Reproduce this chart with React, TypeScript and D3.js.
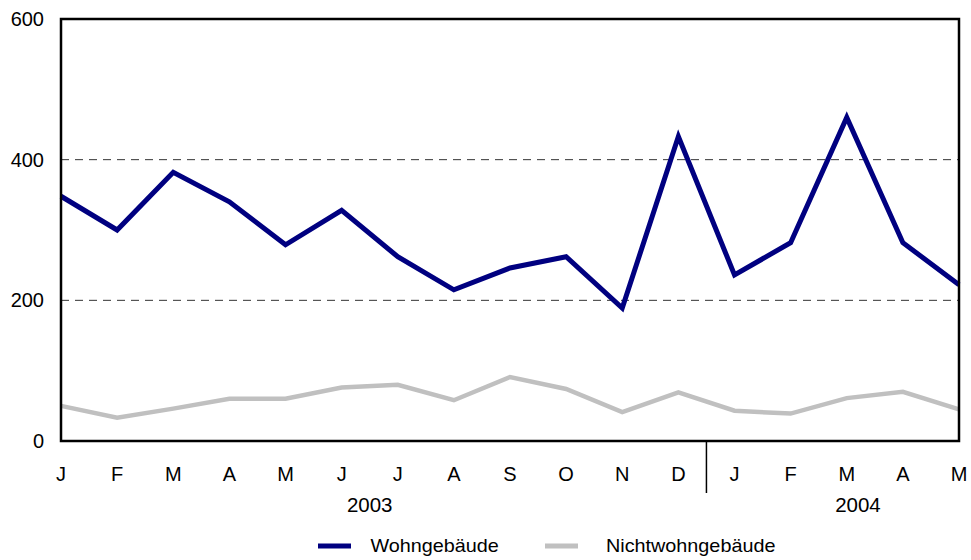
import React, { useRef, useEffect } from "react";
import * as d3 from "d3";

const months = ["J", "F", "M", "A", "M", "J", "J", "A", "S", "O", "N", "D", "J", "F", "M", "A", "M"];
const years = ["2003", "2004"];
const wohn = [348, 300, 382, 340, 279, 328, 262, 215, 246, 262, 189, 433, 236, 282, 460, 282, 222];
const nichtwohn = [50, 33, 46, 60, 60, 76, 80, 58, 91, 74, 41, 69, 43, 39, 61, 70, 45];
const yTicks = [0, 200, 400, 600];
const seriesNames = ["Wohngebäude", "Nichtwohngebäude"];
const colors = ["#000080", "#c0c0c0"];

const App = () => {
  const canvas = useRef<SVGSVGElement>(null);

  const width = 971;
  const height = 560;
  const margin = { top: 19, right: 12, bottom: 119, left: 61 };
  const font = "'Liberation Sans', Arial, sans-serif";

  useEffect(() => {
    const svg = d3.select(canvas.current);
    svg.selectAll("*").remove();

    const xScale = d3.scalePoint<number>()
      .domain(months.map((_, i) => i))
      .range([margin.left, width - margin.right]);
    const yScale = d3.scaleLinear().domain([0, 600]).range([height - margin.bottom, margin.top]);
    const step = xScale.step();

    // dashed grid
    svg.append("g").selectAll("line")
      .data(yTicks.filter(t => t > 0 && t < 600))
      .join("line")
      .attr("x1", margin.left).attr("x2", width - margin.right)
      .attr("y1", d => yScale(d)).attr("y2", d => yScale(d))
      .style("stroke", "#333").style("stroke-width", 1)
      .style("stroke-dasharray", "8,6");

    // y labels
    svg.append("g").selectAll("text")
      .data(yTicks)
      .join("text")
      .attr("x", margin.left - 17)
      .attr("y", d => yScale(d))
      .attr("dy", "0.35em")
      .attr("text-anchor", "end")
      .style("font-family", font).style("font-size", "20px")
      .text(d => d);

    const line = d3.line<number>()
      .x((_, i) => xScale(i) as number)
      .y(d => yScale(d));

    [nichtwohn, wohn].forEach((data, k) => {
      svg.append("path")
        .datum(data)
        .style("stroke", k === 0 ? colors[1] : colors[0])
        .style("stroke-width", k === 0 ? 4.5 : 5)
        .style("stroke-linejoin", "miter")
        .style("fill", "none")
        .attr("d", line);
    });

    // frame
    svg.append("rect")
      .attr("x", margin.left).attr("y", margin.top)
      .attr("width", width - margin.right - margin.left)
      .attr("height", height - margin.bottom - margin.top)
      .style("fill", "none").style("stroke", "#000").style("stroke-width", 2.5);

    // month labels
    svg.append("g").selectAll("text")
      .data(months)
      .join("text")
      .attr("x", (_, i) => xScale(i) as number)
      .attr("y", 473.5)
      .attr("dy", "0.35em")
      .attr("text-anchor", "middle")
      .style("font-family", font).style("font-size", "20px")
      .text(d => d);

    // year separator
    const sepX = (xScale(11) as number) + step / 2;
    svg.append("line")
      .attr("x1", sepX).attr("x2", sepX)
      .attr("y1", yScale(0)).attr("y2", 493)
      .style("stroke", "#000").style("stroke-width", 1.5);

    // year labels
    const yearPos = [((xScale(0) as number) - step / 2 + sepX) / 2, (xScale(14) as number) + step * 0.2];
    svg.append("g").selectAll("text")
      .data(years)
      .join("text")
      .attr("x", (_, i) => yearPos[i])
      .attr("y", 505)
      .attr("dy", "0.35em")
      .attr("text-anchor", "middle")
      .style("font-family", font).style("font-size", "20.5px")
      .text(d => d);

    // legend
    const legendX = [318, 545];
    const lg = svg.append("g").selectAll("g")
      .data(seriesNames)
      .join("g")
      .attr("transform", (_, i) => "translate(" + legendX[i] + ",546)");
    lg.append("line")
      .attr("x1", 0).attr("x2", 33).attr("y1", 0).attr("y2", 0)
      .style("stroke", (_, i) => colors[i]).style("stroke-width", 5);
    lg.append("text")
      .attr("transform", (_, i) => "translate(" + (i === 0 ? 52.5 : 61) + ",0) scale(1.1,1)")
      .attr("dy", "0.35em")
      .style("font-family", font).style("font-size", "18px")
      .text(d => d);
  });

  return (
    <svg ref={canvas} width={width} height={height}
      style={{ position: "absolute", left: 0, top: 0, background: "#fff" }}></svg>
  );
};

export default App;
